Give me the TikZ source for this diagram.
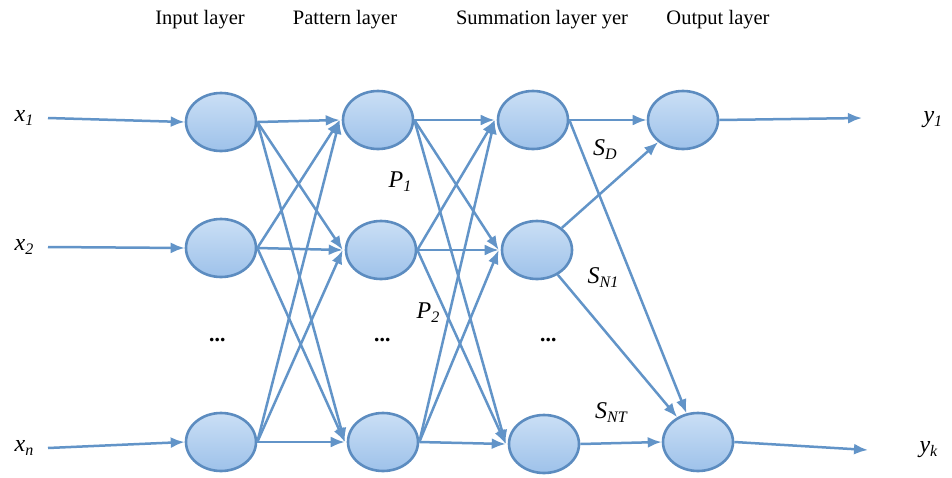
\documentclass[tikz,border=0pt]{standalone}
\usepackage{fontspec}
\setmainfont{Liberation Serif}
\usetikzlibrary{shapes.geometric,arrows.meta}
\definecolor{edgeblue}{RGB}{98,148,200}
\definecolor{ringblue}{RGB}{92,140,192}
\definecolor{topfill}{RGB}{202,223,245}
\definecolor{botfill}{RGB}{158,194,234}
\newcommand{\lbl}[2]{{\fontsize{24}{24}\selectfont\itshape #1}\raisebox{-4pt}{\fontsize{16}{16}\selectfont\itshape #2}}
\begin{document}
\begin{tikzpicture}[x=1pt,y=-1pt,
  neuron/.style={ellipse,draw=ringblue,line width=2.6pt,top color=topfill,bottom color=botfill,minimum width=70pt,minimum height=58pt,inner sep=0pt},
  conn/.style={draw=edgeblue,line width=2.5pt,-{Latex[length=14pt,width=11pt]}},
  head/.style={font=\fontsize{20.5}{20.5}\selectfont},
  dotsty/.style={font=\fontsize{22}{22}\selectfont\bfseries}]
\fill[white] (0,0) rectangle (952,477);
\useasboundingbox (0,0) rectangle (952,477);
% headers
\node[head] (h1) at (200,20) {Input layer};
\node[head] (h2) at (345,20) {Pattern layer};
\node[head] (h3) at (542,20) {Summation layer yer};
\node[head] (h4) at (718,20) {Output layer};
% neurons
\node[neuron] (I1) at (221,122) {};
\node[neuron] (I2) at (221,248) {};
\node[neuron] (I3) at (221,442) {};
\node[neuron] (P1) at (378,120) {};
\node[neuron] (P2) at (381,250) {};
\node[neuron] (P3) at (383,442) {};
\node[neuron] (S1) at (533,120) {};
\node[neuron] (S2) at (537,250) {};
\node[neuron] (S3) at (544,444) {};
\node[neuron] (O1) at (683,120) {};
\node[neuron] (O2) at (698,442) {};
% dots
\node[dotsty] (d1) at (218,340) {\textit{...}};
\node[dotsty] (d2) at (383,340) {\textit{...}};
\node[dotsty] (d3) at (549,340) {\textit{...}};
% inputs
\node (x1) at (24,118) {\lbl{x}{1}};
\node (x2) at (24,247) {\lbl{x}{2}};
\node (xn) at (24,448) {\lbl{x}{n}};
\coordinate (s1) at (48,118);
\coordinate (s2) at (48,247);
\coordinate (s3) at (48,448);
\draw[conn] (s1) -- (I1.west);
\draw[conn] (s2) -- (I2.west);
\draw[conn] (s3) -- (I3.west);
% outputs
\coordinate (e1) at (862,118);
\coordinate (e2) at (868,450);
\draw[conn] (O1.east) -- (e1);
\draw[conn] (O2.east) -- (e2);
\node[anchor=west] (y1) at (920,120) {\lbl{y}{1}};
\node[anchor=west] (yk) at (916,450) {\lbl{y}{k}};
% connections
\foreach \a in {I1,I2,I3} \foreach \b in {P1,P2,P3} \draw[conn] (\a.east) -- ([xshift=-2pt]\b.west);
\foreach \a in {P1,P2,P3} \foreach \b in {S1,S2,S3} \draw[conn] (\a.east) -- ([xshift=-2pt]\b.west);
\draw[conn] (S1.east) -- (O1.west);
\draw[conn] (S1.east) -- (O2);
\draw[conn] (S2) -- (O1);
\draw[conn] (S2) -- (O2);
\draw[conn] (S3.east) -- (O2.west);
% labels
\node (p1) at (400,182) {\lbl{P}{1}};
\node (p2) at (428,313) {\lbl{P}{2}};
\node (sd) at (605,150) {\lbl{S}{D}};
\node (sn1) at (603,278) {\lbl{S}{N1}};
\node (snt) at (611,413) {\lbl{S}{NT}};
\end{tikzpicture}
\end{document}
